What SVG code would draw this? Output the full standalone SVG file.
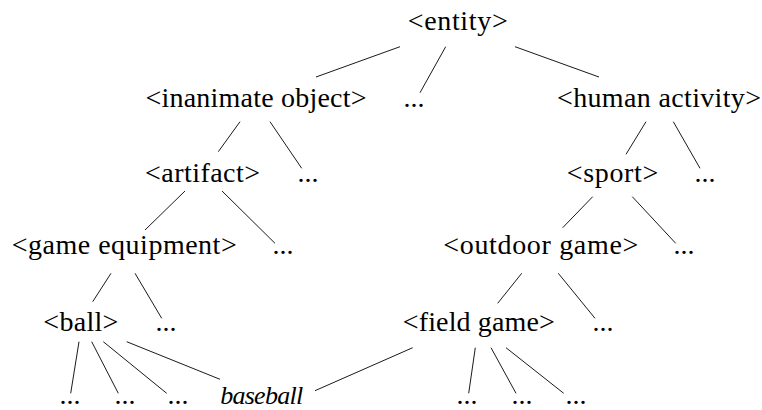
<svg xmlns="http://www.w3.org/2000/svg" width="762" height="410" viewBox="0 0 762 410">
<style>
text{font-family:"Liberation Serif","Times New Roman",serif;font-size:28px;fill:#000;text-anchor:middle}
.it{font-style:italic;font-size:26px}
#connectors line{stroke:#000;stroke-width:0.9}
</style>
<rect width="762" height="410" fill="#fff"/>
<g id="connectors">
<line x1="400" y1="46.7" x2="316" y2="77"/>
<line x1="445.7" y1="46.7" x2="420" y2="92.7"/>
<line x1="515" y1="46.7" x2="599" y2="77"/>
<line x1="240" y1="121.7" x2="218.3" y2="151.7"/>
<line x1="270" y1="121.7" x2="301.7" y2="168.3"/>
<line x1="646" y1="121.7" x2="626" y2="154.3"/>
<line x1="673.3" y1="121.7" x2="700" y2="168.3"/>
<line x1="185" y1="191" x2="145" y2="230"/>
<line x1="222" y1="191" x2="275" y2="243.3"/>
<line x1="592.7" y1="196.7" x2="562.7" y2="227.7"/>
<line x1="632.3" y1="196.7" x2="675.7" y2="243.3"/>
<line x1="111" y1="273.3" x2="92.7" y2="301.7"/>
<line x1="135" y1="273.3" x2="161.7" y2="318.3"/>
<line x1="521.7" y1="273.3" x2="497.7" y2="303.3"/>
<line x1="558.3" y1="273.3" x2="595" y2="318.3"/>
<line x1="79" y1="341.7" x2="70.7" y2="393.3"/>
<line x1="91.7" y1="341.7" x2="118.3" y2="393.3"/>
<line x1="103.3" y1="341.7" x2="166.7" y2="393.3"/>
<line x1="126.7" y1="341.7" x2="220" y2="379.3"/>
<line x1="412.7" y1="347.7" x2="315" y2="390.7"/>
<line x1="475.3" y1="347.7" x2="468.7" y2="393.3"/>
<line x1="491" y1="347.7" x2="516" y2="393.3"/>
<line x1="506" y1="347.7" x2="563.7" y2="393.3"/>
</g>
<g id="entity"><text x="457.7" y="30" textLength="100" lengthAdjust="spacing">&lt;entity&gt;</text></g>
<g id="inanimate-object"><text x="256" y="107" textLength="221" lengthAdjust="spacing">&lt;inanimate object&gt;</text></g>
<g id="dots-entity"><text x="414" y="107">...</text></g>
<g id="human-activity"><text x="659" y="107" textLength="204" lengthAdjust="spacing">&lt;human activity&gt;</text></g>
<g id="artifact"><text x="202.5" y="182" textLength="115" lengthAdjust="spacing">&lt;artifact&gt;</text></g>
<g id="dots-inanimate"><text x="308" y="182">...</text></g>
<g id="sport"><text x="612.5" y="182" textLength="91.6" lengthAdjust="spacing">&lt;sport&gt;</text></g>
<g id="dots-human"><text x="705" y="182">...</text></g>
<g id="game-equipment"><text x="124.2" y="254" textLength="225" lengthAdjust="spacing">&lt;game equipment&gt;</text></g>
<g id="dots-artifact"><text x="283" y="254">...</text></g>
<g id="outdoor-game"><text x="540.8" y="254" textLength="195" lengthAdjust="spacing">&lt;outdoor game&gt;</text></g>
<g id="dots-sport"><text x="684" y="254">...</text></g>
<g id="ball"><text x="80.8" y="331" textLength="75" lengthAdjust="spacing">&lt;ball&gt;</text></g>
<g id="dots-game-equipment"><text x="166" y="331">...</text></g>
<g id="field-game"><text x="478.8" y="331" textLength="152" lengthAdjust="spacing">&lt;field game&gt;</text></g>
<g id="dots-outdoor"><text x="603" y="331">...</text></g>
<g id="dots-ball-1"><text x="70" y="404">...</text></g>
<g id="dots-ball-2"><text x="125" y="404">...</text></g>
<g id="dots-ball-3"><text x="178" y="404">...</text></g>
<g id="baseball"><text class="it" x="261.7" y="404" textLength="83" lengthAdjust="spacing">baseball</text></g>
<g id="dots-field-1"><text x="467" y="404">...</text></g>
<g id="dots-field-2"><text x="522" y="404">...</text></g>
<g id="dots-field-3"><text x="576" y="404">...</text></g>
</svg>
